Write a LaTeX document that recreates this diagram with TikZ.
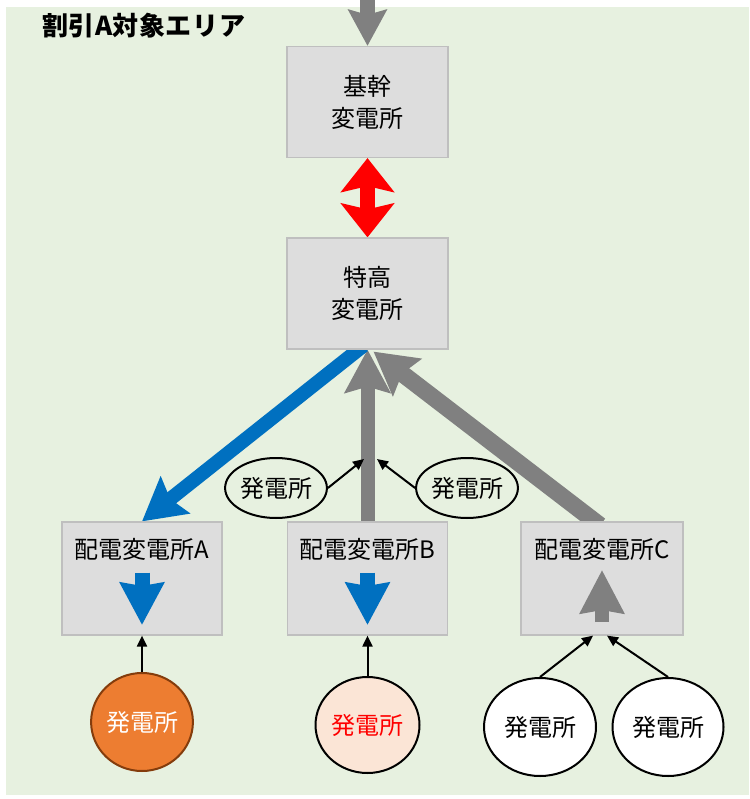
\documentclass[tikz,border=0pt]{standalone}
\usepackage{fontspec}
\newfontfamily\jp{Noto Sans CJK JP}
\usetikzlibrary{arrows.meta,shapes.geometric,calc}
\pgfdeclarelayer{bg}
\pgfdeclarelayer{bgback}
\pgfsetlayers{bgback,bg,main}
\definecolor{bggreen}{RGB}{231,241,224}
\definecolor{boxfill}{RGB}{221,221,221}
\definecolor{boxline}{RGB}{191,191,191}
\definecolor{arrgray}{RGB}{128,128,128}
\definecolor{arrblue}{RGB}{0,112,192}
\definecolor{orangefill}{RGB}{237,125,49}
\definecolor{orangeline}{RGB}{132,60,12}
\definecolor{pinkfill}{RGB}{251,229,214}
\tikzset{
  stbox/.style={draw=boxline, fill=boxfill, line width=1.2pt, minimum width=161pt, minimum height=111pt, inner sep=0pt, align=center, font=\jp\fontsize{24}{32}\selectfont},
  lbl/.style={inner sep=0pt, font=\jp\fontsize{24}{28}\selectfont},
  gen/.style={ellipse, draw=black, line width=2pt, inner sep=0pt, font=\jp\fontsize{24}{28}\selectfont},
  grayfat/.style={draw=arrgray, line width=15pt},
  bluefat/.style={draw=arrblue, line width=14pt},
  blk/.style={draw=black, line width=2pt, -{Triangle[width=10pt,length=11pt]}},
}
\begin{document}
\begin{tikzpicture}[x=1pt,y=-1pt]
\useasboundingbox (0,0) rectangle (749,799);
\begin{pgfonlayer}{bgback}
\fill[bggreen] (6,7) rectangle (749,795);
\end{pgfonlayer}

\node[anchor=west, inner sep=0pt, font=\jp\bfseries\fontsize{26}{28}\selectfont\addfontfeature{LetterSpace=2}] (title) at (42,26) {割引A対象エリア};

\node[stbox] (kikan) at (367.5,102) {基幹\\変電所};
\node[stbox] (tokko) at (367.5,293.5) {特高\\変電所};
\node[stbox, minimum width=160pt, minimum height=113pt] (boxA) at (142,578.5) {};
\node[stbox, minimum width=160pt, minimum height=113pt] (boxB) at (367.5,578.5) {};
\node[stbox, minimum width=162pt, minimum height=113pt] (boxC) at (602,578.5) {};
\node[lbl] (labA) at (142,549) {配電変電所A};
\node[lbl] (labB) at (367.5,549) {配電変電所B};
\node[lbl] (labC) at (602,549) {配電変電所C};

\node[gen, minimum width=97pt, minimum height=60pt] (g1) at (276,488) {発電所};
\node[gen, minimum width=99pt, minimum height=60pt] (g2) at (467,488) {発電所};
\node[gen, draw=orangeline, fill=orangefill, text=white, minimum width=99pt, minimum height=98pt] (ga) at (142,722) {発電所};
\node[gen, fill=pinkfill, text=red, minimum width=104pt, minimum height=96pt] (gb) at (367.5,725) {発電所};
\node[gen, fill=white, minimum width=112pt, minimum height=98pt] (gc1) at (540,727) {発電所};
\node[gen, fill=white, minimum width=111pt, minimum height=98pt] (gc2) at (668,727) {発電所};

\coordinate (topin) at (367.5,0);
\coordinate (t1) at (364,459);
\coordinate (t2) at (377,459);

\begin{pgfonlayer}{bg}
\draw[grayfat, -{Stealth[width=38pt,length=36pt,inset=5pt]}] (topin) -- (kikan.north);
\draw[draw=red, line width=15pt, {Stealth[width=53pt,length=34pt,inset=6pt]}-{Stealth[width=53pt,length=34pt,inset=6pt]}] (kikan.south) -- (tokko.north);
\draw[grayfat, line width=17pt, -{Stealth[width=46pt,length=42pt,inset=6pt]}] ($(boxC.north)+(-2,4)$) -- ($(tokko.south)+(6,2)$);
\draw[grayfat, line width=14pt, -{Stealth[width=45pt,length=43pt,inset=6pt]}] (boxB.north) -- (tokko.south);
\draw[bluefat, -{Stealth[width=46pt,length=42pt,inset=6pt]}] ($(tokko.south)+(-4,-4)$) -- ($(boxA.north)+(0,0)$);
\end{pgfonlayer}

\draw[draw=arrblue, line width=15pt, -{Stealth[width=43pt,length=42pt,inset=3pt]}] ($(boxA.center)+(0,-6)$) -- ($(boxA.center)+(0,46.5)$);
\draw[draw=arrblue, line width=15pt, -{Stealth[width=43pt,length=42pt,inset=3pt]}] ($(boxB.center)+(0,-6)$) -- ($(boxB.center)+(0,46.5)$);
\draw[draw=arrgray, line width=14pt, -{Stealth[width=43pt,length=43pt,inset=3pt]}] ($(boxC.center)+(0,43.5)$) -- ($(boxC.center)+(0,-8.5)$);

\draw[blk] (g1.east) -- (t1);
\draw[blk] (g2.west) -- (t2);
\draw[blk] (ga.north) -- (boxA.south);
\draw[blk] (gb.north) -- (boxB.south);
\draw[blk] (gc1.north) -- ($(boxC.south)+(-9,0)$);
\draw[blk] (gc2.north) -- ($(boxC.south)+(5,0)$);
\end{tikzpicture}
\end{document}
